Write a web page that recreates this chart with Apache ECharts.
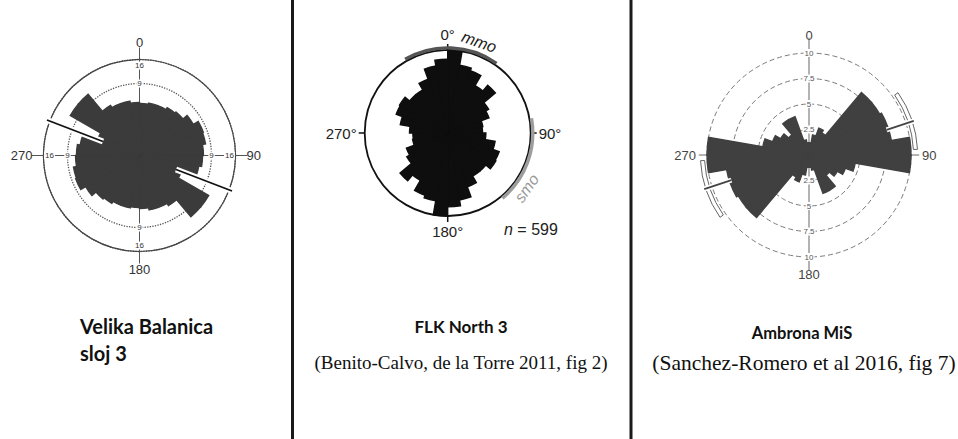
<!DOCTYPE html>
<html>
<head>
<meta charset="utf-8">
<title>Rose diagrams</title>
<script src="https://cdn.jsdelivr.net/npm/echarts@6/dist/echarts.min.js"></script>
<style>
html,body{margin:0;padding:0;background:#ffffff;}
#chart{width:958px;height:439px;}
</style>
</head>
<body>
<div id="chart"></div>
<script>
// ---------------- data ----------------
const binLabels = ['0','10','20','30','40','50','60','70','80','90','100','110','120','130','140','150','160','170',
                   '180','190','200','210','220','230','240','250','260','270','280','290','300','310','320','330','340','350'];
const compassTicks = [0, 90, 180, 270];

// Velika Balanica, sloj 3 (equal-area rose; radial labels 9 and 16)
const velikaFreq = [4.7,4.9,4.9,5.3,5.6,6.7,8.0,7.8,7.1,6.9,6.3,3.5,11.1,11.1,5.8,5.3,5.3,4.9,
                    4.7,4.9,4.9,5.3,5.6,6.7,8.0,7.8,7.1,6.9,6.3,3.5,11.1,11.1,5.8,5.3,5.3,4.9];
const velikaRingTicks = [9, 16];
const velikaMeanAxis = [111, 291];

// FLK North 3
const flkFreq = [10.0,8.3,8.0,6.6,7.5,5.7,5.3,4.3,4.2,4.6,5.8,6.6,6.7,6.0,6.0,6.9,8.2,8.9,
                 10.0,8.3,8.0,6.6,7.5,5.7,5.3,4.3,4.2,4.6,5.8,6.6,6.7,6.0,6.0,6.9,8.2,8.9];
const flkN = 599;
const flkArcNames = ['mmo', 'smo'];
const flkArcRanges = [[330, 395], [80, 140]];
const flkArcLabelAngles = [19, 125];

// Ambrona MiS
const ambronaFreq = [1.2,2.0,2.8,2.5,8.0,8.0,8.2,8.2,10.3,10.3,4.6,3.8,3.2,2.6,4.0,4.0,1.5,1.2,
                     1.2,2.0,2.8,2.5,8.0,8.0,8.2,8.2,10.3,10.3,4.6,3.8,3.2,2.6,4.0,4.0,1.5,1.2];
const ambronaRingTicks = [2.5, 5, 7.5, 10];
const ambronaMeanAxis = [72, 252];
const ambronaConfRanges = [[55, 87], [235, 267]];

// ---------------- layout / style ----------------
const SANS = '"Liberation Sans", Arial, sans-serif';
const SERIF = '"Liberation Serif", "Times New Roman", serif';
const TITLE = 'Lato, "Open Sans", sans-serif';
const geo = {
  velika: {center: [139.5, 155.5], radius: 96},
  flk: {center: [447.7, 133], radius: 83},
  ambrona: {center: [809, 155], radius: 102}
};

function catAngle(pi) {
  return {polarIndex: pi, type: 'category', data: binLabels, startAngle: 90, clockwise: true, boundaryGap: true,
    axisLine: {show: false}, axisTick: {show: false}, axisLabel: {show: false}, splitLine: {show: false}, splitArea: {show: false}};
}
function hiddenRadius(pi, max) {
  return {polarIndex: pi, type: 'value', min: 0, max: max, axisLine: {show: false}, axisTick: {show: false},
    axisLabel: {show: false}, splitLine: {show: false}, splitArea: {show: false}};
}
function valAngle(pi, extra) {
  return Object.assign({polarIndex: pi, type: 'value', min: 0, max: 360, interval: 90, startAngle: 90, clockwise: true,
    splitLine: {show: false}, splitArea: {show: false}}, extra);
}
function lineEl(p0, p1, stroke, w) {
  return {type: 'line', shape: {x1: p0[0], y1: p0[1], x2: p1[0], y2: p1[1]}, style: {stroke: stroke, lineWidth: w, fill: 'none'}};
}
function arcEl(api, r, a0, a1, stroke, w) {
  const c = api.coord([0, 0]), p0 = api.coord([r, a0]), p1 = api.coord([r, a1]);
  return {type: 'arc', shape: {cx: c[0], cy: c[1], r: Math.hypot(p0[0] - c[0], p0[1] - c[1]),
    startAngle: Math.atan2(p0[1] - c[1], p0[0] - c[0]), endAngle: Math.atan2(p1[1] - c[1], p1[0] - c[0]), clockwise: true},
    style: {stroke: stroke, lineWidth: w, fill: 'none'}};
}
function spokes(pi, rows, stroke, w) {
  return {type: 'custom', coordinateSystem: 'polar', polarIndex: pi, z: 1, silent: true, data: rows,
    renderItem: function (params, api) {
      const a = api.value(1);
      return lineEl(api.coord([api.value(0), a]), api.coord([api.value(2), a]), stroke, w);
    }};
}
function meanLines(pi, angles, r0, r1, color, halo) {
  return {type: 'custom', coordinateSystem: 'polar', polarIndex: pi, z: 5, silent: true,
    data: angles.map(a => [r0, a, r1]),
    renderItem: function (params, api) {
      const a = api.value(1);
      const p0 = api.coord([api.value(0), a]), p1 = api.coord([api.value(2), a]);
      return {type: 'group', children: [lineEl(p0, p1, '#ffffff', halo), lineEl(p0, p1, color, 1.8)]};
    }};
}
function ringLabels(pi, ticks, toR, angles, insetFn, font, color) {
  const rows = [];
  ticks.forEach(t => angles.forEach(a => rows.push([toR(t), a, t])));
  return {type: 'custom', coordinateSystem: 'polar', polarIndex: pi, z: 6, silent: true, data: rows,
    renderItem: function (params, api) {
      const a = api.value(1), t = api.value(2);
      const p = api.coord([api.value(0), a]), c = api.coord([0, 0]);
      const dx = c[0] - p[0], dy = c[1] - p[1], d = Math.hypot(dx, dy) || 1, ins = insetFn(t);
      return {type: 'text', x: p[0] + dx / d * ins, y: p[1] + dy / d * ins,
        style: {text: String(t), fill: color, font: font, align: 'center', verticalAlign: 'middle',
          backgroundColor: '#ffffff', padding: [0, 1]}};
    }};
}

const option = {
  animation: false,
  backgroundColor: '#ffffff',
  polar: [
    {center: geo.velika.center, radius: geo.velika.radius},
    {center: geo.velika.center, radius: geo.velika.radius},
    {center: geo.flk.center, radius: geo.flk.radius},
    {center: geo.flk.center, radius: geo.flk.radius},
    {center: geo.ambrona.center, radius: geo.ambrona.radius},
    {center: geo.ambrona.center, radius: geo.ambrona.radius}
  ],
  angleAxis: [
    catAngle(0),
    valAngle(1, {axisLine: {show: true, lineStyle: {color: '#444', width: 1.2}}, axisTick: {show: false},
      axisLabel: {show: true, margin: 11, color: '#333', fontSize: 13, fontFamily: SANS,
        formatter: v => (v >= 360 ? '' : String(v))}}),
    catAngle(2),
    valAngle(3, {axisLine: {show: true, lineStyle: {color: '#111', width: 1.8}},
      axisTick: {show: true, length: 6, lineStyle: {color: '#111', width: 1.5}},
      axisLabel: {show: true, margin: 8, color: '#222', fontSize: 15, fontFamily: SANS,
        formatter: v => (v >= 360 ? '' : v + '°')}}),
    catAngle(4),
    valAngle(5, {axisLine: {show: false}, axisTick: {show: false},
      axisLabel: {show: true, margin: 11, color: '#444', fontSize: 13, fontFamily: SANS,
        formatter: v => (v >= 360 ? '' : String(v))}})
  ],
  radiusAxis: [
    hiddenRadius(0, Math.sqrt(16)),
    Object.assign(hiddenRadius(1, Math.sqrt(16)), {interval: 3,
      splitLine: {show: true, lineStyle: {type: 'dotted', color: '#555', width: 1.3}}}),
    hiddenRadius(2, 10),
    hiddenRadius(3, 10),
    hiddenRadius(4, 10),
    Object.assign(hiddenRadius(5, 10), {interval: 2.5,
      splitLine: {show: true, lineStyle: {type: [5, 3], color: '#7a7a7a', width: 1}}})
  ],
  series: [
    // ---- Velika Balanica ----
    spokes(1, compassTicks.map(a => [0, a, 4.5]), '#555', 1),
    {type: 'bar', coordinateSystem: 'polar', polarIndex: 0, barCategoryGap: '0%', z: 2,
      data: velikaFreq.map(v => Math.sqrt(v)),
      itemStyle: {color: '#3b3b3b', borderColor: '#3b3b3b', borderWidth: 1.4}},
    meanLines(1, velikaMeanAxis, 1.63, 4.13, '#111', 6),
    ringLabels(1, velikaRingTicks, t => Math.sqrt(t), compassTicks, t => (t === 16 ? 6 : 0),
      '8px ' + SANS, '#333'),
    // ---- FLK North 3 ----
    {type: 'bar', coordinateSystem: 'polar', polarIndex: 2, barCategoryGap: '0%', z: 2,
      data: flkFreq,
      itemStyle: {color: '#0e0e0e', borderColor: '#0e0e0e', borderWidth: 1.4}},
    {type: 'custom', coordinateSystem: 'polar', polarIndex: 3, z: 4, silent: true,
      data: flkArcRanges.map((r, i) => [10.25, r[0], r[1], i]),
      renderItem: function (params, api) {
        const i = api.value(3);
        return arcEl(api, api.value(0), api.value(1), api.value(2), i === 0 ? '#555' : '#9d9d9d', 3.4);
      }},
    {type: 'custom', coordinateSystem: 'polar', polarIndex: 3, z: 4, silent: true,
      data: flkArcLabelAngles.map((a, i) => [11.6, a, i]),
      renderItem: function (params, api) {
        const a = api.value(1), i = api.value(2);
        const p = api.coord([api.value(0), a]);
        const rot = (a > 90 && a < 270 ? (180 - a) : -a) * Math.PI / 180;
        return {type: 'text', x: p[0], y: p[1], rotation: rot,
          style: {text: flkArcNames[i], fill: i === 0 ? '#222' : '#9a9a9a', font: 'italic 16px ' + SANS,
            align: 'center', verticalAlign: 'middle'}};
      }},
    // ---- Ambrona MiS ----
    spokes(5, [[0, 0, 11.5], [0, 180, 11.3], [10, 90, 10.8], [10, 270, 10.8]], '#666', 1),
    {type: 'bar', coordinateSystem: 'polar', polarIndex: 4, barCategoryGap: '0%', z: 2,
      data: ambronaFreq,
      itemStyle: {color: '#404040', borderColor: '#404040', borderWidth: 1.4}},
    meanLines(5, ambronaMeanAxis, 8.0, 10.8, '#444', 5),
    {type: 'custom', coordinateSystem: 'polar', polarIndex: 5, z: 4, silent: true,
      data: ambronaConfRanges.map(r => [10.25, r[0], r[1]]),
      renderItem: function (params, api) {
        const r0 = api.value(0), r1 = r0 + 0.4, a0 = api.value(1), a1 = api.value(2);
        return {type: 'group', children: [
          arcEl(api, r0, a0, a1, '#666', 1), arcEl(api, r1, a0, a1, '#666', 1),
          lineEl(api.coord([r0, a0]), api.coord([r1, a0]), '#666', 1),
          lineEl(api.coord([r0, a1]), api.coord([r1, a1]), '#666', 1)]};
      }},
    ringLabels(5, ambronaRingTicks, t => t, [0, 180], t => 0, '8px ' + SANS, '#555')
  ],
  graphic: [
    {type: 'line', shape: {x1: 292.5, y1: 0, x2: 292.5, y2: 439}, style: {stroke: '#1a1a1a', lineWidth: 3}},
    {type: 'line', shape: {x1: 631, y1: 0, x2: 631, y2: 439}, style: {stroke: '#1a1a1a', lineWidth: 3}},
    {type: 'text', x: 504, y: 229, style: {text: '{i|n} = ' + flkN, fill: '#222', font: '16px ' + SANS,
      textVerticalAlign: 'middle', verticalAlign: 'middle',
      rich: {i: {fontStyle: 'italic', fontSize: 16, fontFamily: SANS, fill: '#222'}}}},
    {type: 'text', x: 80, y: 326, style: {text: 'Velika Balanica', fill: '#111', font: 'bold 20px ' + TITLE,
      textVerticalAlign: 'middle', verticalAlign: 'middle'}},
    {type: 'text', x: 80, y: 353, style: {text: 'sloj 3', fill: '#111', font: 'bold 20px ' + TITLE,
      textVerticalAlign: 'middle', verticalAlign: 'middle'}},
    {type: 'text', x: 461, y: 326, style: {text: 'FLK North 3', fill: '#111', font: 'bold 17px ' + TITLE,
      textAlign: 'center', align: 'center', textVerticalAlign: 'middle', verticalAlign: 'middle'}},
    {type: 'text', x: 461, y: 362, style: {text: '(Benito-Calvo, de la Torre 2011, fig 2)', fill: '#111',
      font: '19px ' + SERIF, textAlign: 'center', align: 'center', textVerticalAlign: 'middle', verticalAlign: 'middle'}},
    {type: 'text', x: 802, y: 333, style: {text: 'Ambrona MiS', fill: '#111', font: 'bold 16.5px ' + TITLE,
      textAlign: 'center', align: 'center', textVerticalAlign: 'middle', verticalAlign: 'middle'}},
    {type: 'text', x: 804, y: 363, style: {text: '(Sanchez-Romero et al 2016, fig 7)', fill: '#111',
      font: '21.5px ' + SERIF, textAlign: 'center', align: 'center', textVerticalAlign: 'middle', verticalAlign: 'middle'}}
  ]
};

const chart = echarts.init(document.getElementById('chart'), null, {renderer: 'svg'});
chart.setOption(option);
</script>
</body>
</html>
